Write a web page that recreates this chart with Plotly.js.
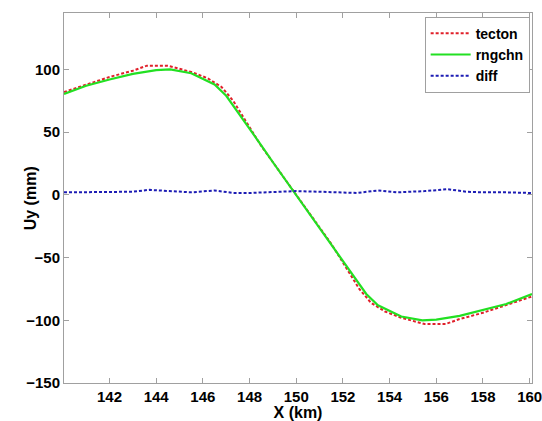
<!DOCTYPE html>
<html>
<head>
<meta charset="utf-8">
<script src="https://cdn.plot.ly/plotly-3.0.1.min.js"></script>
<style>html,body{margin:0;padding:0;background:#fff;}#chart{width:542px;height:421px;}</style>
</head>
<body>
<div id="chart"></div>
<script>
const tectonX = [140.05,141,142,143,143.6,144.5,145.5,146.2,146.8,147.3,148,148.5,149,149.5,150,150.5,151,151.5,152,152.7,153.2,153.8,154.5,155.5,156.4,157,158,159,160.1];
const tectonY = [82,88,94,99,103,103,98,93,86,75,54,39,26,13,0,-13,-26,-39,-54,-75,-86,-93,-98,-103,-103,-99,-94,-88,-81];

const rngchnX = [140.05,141,142,143,144,144.6,145.5,146.5,147,147.5,148,148.5,149,149.5,150,150.5,151,151.5,152,152.5,153,153.5,154.5,155.4,156,157,158,159,160.1];
const rngchnY = [80.5,87,92,96.5,99.5,100,97,88,79,66,53,39.5,26,13,0,-13,-26,-39.5,-53,-66,-79,-88,-97,-100,-99.5,-96.5,-92,-87,-79];

const diffX = [140.05,141,142,143,143.7,144.5,145.5,146.5,147.3,148,149,150,151,152,152.6,153.5,154.3,155.5,156.5,157.3,158,159,160.1];
const diffY = [2,2,2,2.5,4,3,2,3.5,1.5,1.5,2,3,2.5,1.5,1.5,3.5,2,3,4.5,2.5,2,2,1.5];

const xTicks = [142,144,146,148,150,152,154,156,158,160];
const yTicks = [-150,-100,-50,0,50,100];

const fam = '"Liberation Sans", Arial, sans-serif';

const traces = [
  {x: tectonX, y: tectonY, name: 'tecton', mode: 'lines', line: {color: '#e0202a', width: 2, dash: '3px,2px'}},
  {x: rngchnX, y: rngchnY, name: 'rngchn', mode: 'lines', line: {color: '#22e022', width: 2.2}},
  {x: diffX, y: diffY, name: 'diff', mode: 'lines', line: {color: '#1c1cb4', width: 2, dash: '3px,2px'}}
];

const axisCommon = {
  showgrid: false, zeroline: false, showline: true, mirror: 'ticks',
  linecolor: '#a0a0a0', linewidth: 1, ticks: 'inside', ticklen: 5,
  tickcolor: '#a0a0a0', tickwidth: 1, ticklabeloverflow: 'allow'
};

const layout = {
  width: 542, height: 421,
  margin: {l: 64, r: 10, t: 13, b: 38},
  paper_bgcolor: '#fff', plot_bgcolor: '#fff',
  font: {family: fam, color: '#000'},
  showlegend: true,
  legend: {
    x: 0.995, xanchor: 'right', y: 0.99, yanchor: 'top',
    bordercolor: '#a0a0a0', borderwidth: 1, bgcolor: '#fff',
    font: {family: fam, size: 14, weight: 'bold', color: '#000'},
    tracegroupgap: 0, itemwidth: 40
  },
  xaxis: Object.assign({}, axisCommon, {
    range: [140.05, 160.1], tickvals: xTicks, ticktext: xTicks.map(String),
    tickfont: {family: fam, size: 15, weight: 'bold', color: '#000'},
    title: {text: '<b>X (km)</b>', font: {family: fam, size: 16, color: '#000'}, standoff: 2}
  }),
  yaxis: Object.assign({}, axisCommon, {
    range: [-150, 145], tickvals: yTicks, ticktext: yTicks.map(v => v < 0 ? '\u2212' + Math.abs(v) : String(v)),
    tickfont: {family: fam, size: 15, weight: 'bold', color: '#000'}
  }),
  annotations: [{
    text: '<b>Uy (mm)</b>', xref: 'paper', yref: 'paper', x: -0.072, y: 0.5,
    xanchor: 'center', yanchor: 'middle', textangle: -90, showarrow: false,
    font: {family: fam, size: 16, color: '#000'}
  }]
};

Plotly.newPlot('chart', traces, layout, {displayModeBar: false, staticPlot: true});
</script>
</body>
</html>
